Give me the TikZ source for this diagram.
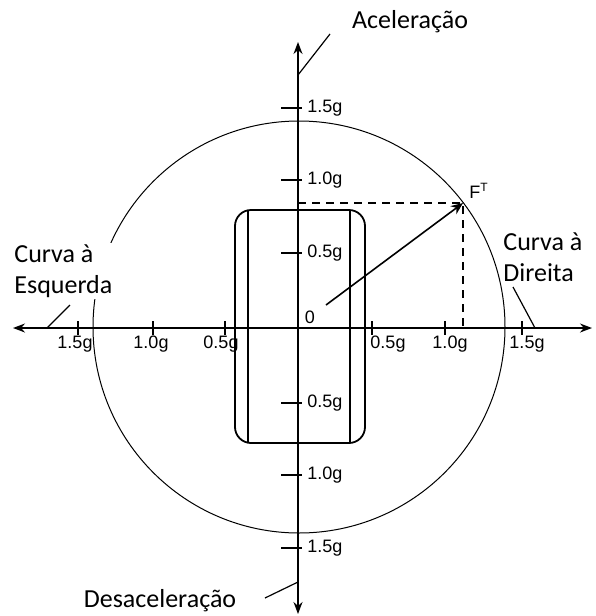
\documentclass[tikz,border=0pt]{standalone}
\usepackage{fontspec}
\setmainfont{Carlito}
\newfontfamily\axisfont{Liberation Sans}
\usetikzlibrary{arrows.meta}

\begin{document}
\begin{tikzpicture}[
    x=0.5pt, y=-0.5pt,
    axis/.style={line width=0.8pt, {Stealth[length=6pt,width=4.5pt]}-{Stealth[length=6pt,width=4.5pt]}},
    force/.style={line width=0.8pt, -{Stealth[length=6pt,width=5pt]}},
    tickmark/.style={line width=0.9pt},
    ticklbl/.style={font=\axisfont\fontsize{9}{10}\selectfont, inner sep=1pt},
    caption/.style={font=\fontsize{13}{15.5}\selectfont, align=left, inner sep=1pt},
    leader/.style={line width=0.6pt},
    tire/.style={line width=0.9pt},
    guide/.style={line width=0.7pt, dash pattern=on 4pt off 3pt},
  ]
    \useasboundingbox (0,0) rectangle (595,616);
    % axes
    \coordinate (O) at (298,328);
    \coordinate (top) at (298,42);
    \coordinate (bot) at (298,614);
    \coordinate (lft) at (13,328);
    \coordinate (rgt) at (592,328);
    \draw[axis] (bot) -- (top);
    \draw[axis] (lft) -- (rgt);
    % friction circle
    \draw[line width=0.5pt] (299,327) circle [radius=206];
    % tire seen from above
    \draw[tire, rounded corners=8pt] (235,210) rectangle (365,443);
    \draw[tire] (248,211) -- (248,442);
    \draw[tire] (350,211) -- (350,442);
    % ticks on the vertical axis
    \foreach \y/\lb in {108/1.5g, 180/1.0g, 253/0.5g, 403/0.5g, 475/1.0g, 548/1.5g}
    { \draw[tickmark] (281,\y) -- (302,\y);
      \node[ticklbl, anchor=west] (v\y) at (305,\y) {\lb}; }
    % ticks on the horizontal axis
    \foreach \x/\lx/\lb in {78/75/1.5g, 153/151/1.0g, 225/221/0.5g,
      372/388/0.5g, 445/450/1.0g, 522/527/1.5g}
    { \draw[tickmark] (\x,321) -- (\x,335);
      \node[ticklbl] (h\x) at (\lx,344) {\lb}; }
    % resultant force
    \coordinate (F) at (463,203);
    \coordinate (Fs) at (326,305);
    \draw[guide] (O |- F) -- (F) -- (F |- O);
    \draw[force] (Fs) -- (F);
    \node[ticklbl] (zero) at (310,317) {0};
    \node[ticklbl] (ft) at (479,191) {F\textsuperscript{T}};
    % captions
    \node[caption] (acc) at (410,22) {Aceleração};
    \node[caption] (dec) at (160,601) {Desaceleração};
    \node[caption, fill=white, anchor=west] (lturn) at (12,271) {Curva à\\Esquerda};
    \node[caption, anchor=west] (rturn) at (501,257) {Curva à\\Direita};
    % leaders
    \coordinate (accA) at (330,34);  \coordinate (accB) at (298,75);
    \coordinate (decA) at (265,598); \coordinate (decB) at (298,582);
    \coordinate (ltA) at (70,305);   \coordinate (ltB) at (47,328);
    \coordinate (rtA) at (513,287);  \coordinate (rtB) at (535,328);
    \draw[leader] (accA) -- (accB);
    \draw[leader] (decA) -- (decB);
    \draw[leader] (ltA) -- (ltB);
    \draw[leader] (rtA) -- (rtB);
\end{tikzpicture}
\end{document}
